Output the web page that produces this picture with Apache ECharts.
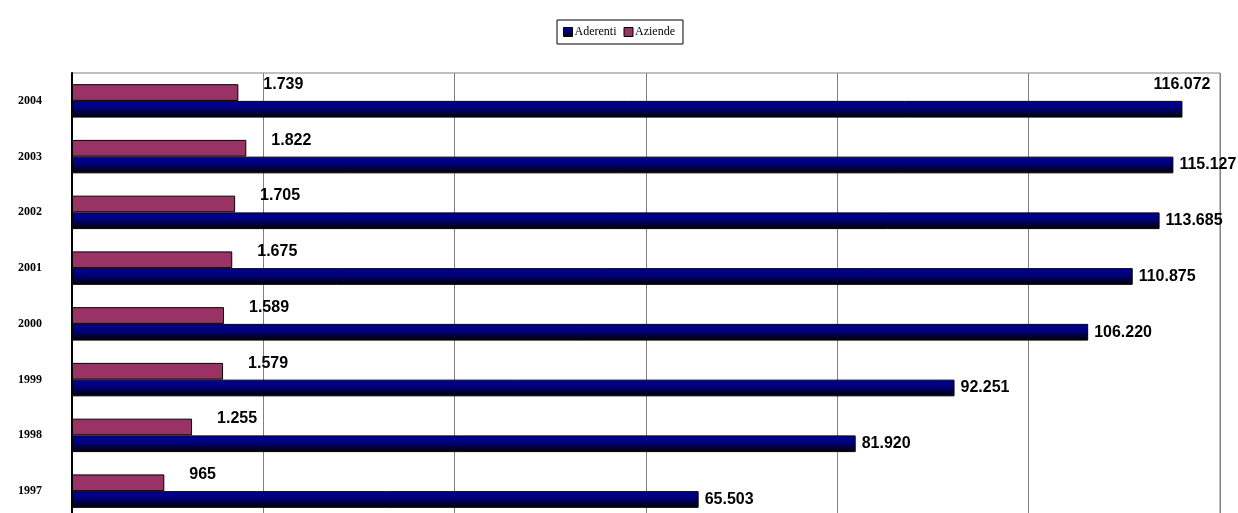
<!DOCTYPE html>
<html>
<head>
<meta charset="utf-8">
<script src="https://cdn.jsdelivr.net/npm/echarts@6/dist/echarts.min.js"></script>
<style>
html,body{margin:0;padding:0;background:#fff;}
#chart{width:1238px;height:513px;}
</style>
</head>
<body>
<div id="chart"></div>
<script>
var years = ['1997','1998','1999','2000','2001','2002','2003','2004'];
var aderenti = [65503, 81920, 92251, 106220, 110875, 113685, 115127, 116072];
var aziende = [965, 1255, 1579, 1589, 1675, 1705, 1822, 1739];
var seriesNames = ['Aderenti', 'Aziende'];

function fmt(v) {
  return String(v).replace(/\B(?=(\d{3})+(?!\d))/g, '.');
}

var chart = echarts.init(document.getElementById('chart'), null, {renderer: 'canvas'});
var W = 1238;
var labelFont = {fontFamily: '"Liberation Sans", Arial, sans-serif', fontWeight: 'bold', fontSize: 16, color: '#000'};

chart.setOption({
  animation: false,
  backgroundColor: '#fff',
  legend: {
    data: seriesNames,
    top: 20,
    left: 'center',
    icon: 'rect',
    itemWidth: 9,
    itemHeight: 9,
    itemGap: 7,
    padding: [6, 8, 6, 6],
    borderColor: '#000',
    borderWidth: 1,
    itemStyle: {borderColor: '#000', borderWidth: 1},
    textStyle: {fontFamily: '"Liberation Serif", "Times New Roman", serif', fontSize: 12, color: '#000', padding: [0, 0, 0, -3]}
  },
  grid: {
    left: 72, right: 18, top: 73, height: 446,
    outerBoundsMode: 'none',
    show: true, borderColor: '#808080', borderWidth: 1,
    containLabel: false
  },
  xAxis: [
    {
      type: 'value', min: 0, max: 120000, interval: 20000,
      axisLabel: {show: false}, axisTick: {show: false}, axisLine: {show: false},
      splitLine: {show: true, lineStyle: {color: '#808080', width: 1}}
    },
    {
      type: 'value', min: 0, max: 12000, show: false,
      splitLine: {show: false}
    }
  ],
  yAxis: {
    type: 'category',
    data: years,
    axisTick: {show: false},
    axisLine: {show: true, lineStyle: {color: '#000', width: 2}},
    axisLabel: {
      margin: 30,
      fontFamily: '"Liberation Serif", "Times New Roman", serif',
      fontWeight: 'bold', fontSize: 12, color: '#000'
    }
  },
  series: [
    {
      name: seriesNames[1],
      type: 'bar',
      xAxisIndex: 1,
      data: aziende,
      barGap: '0%',
      barCategoryGap: '40%',
      itemStyle: {color: '#993366', borderColor: '#000', borderWidth: 1},
      label: Object.assign({
        show: true, position: 'right', distance: 5, offset: [20, -8],
        formatter: function (p) { return fmt(p.value); }
      }, labelFont)
    },
    {
      name: seriesNames[0],
      type: 'bar',
      xAxisIndex: 0,
      data: aderenti,
      barGap: '0%',
      barCategoryGap: '40%',
      itemStyle: {
        color: new echarts.graphic.LinearGradient(0, 0, 0, 1, [
          {offset: 0, color: '#000094'},
          {offset: 0.4, color: '#000080'},
          {offset: 1, color: '#000000'}
        ]),
        borderColor: '#000', borderWidth: 1
      },
      label: Object.assign({
        show: true, position: 'right', distance: 6,
        formatter: function (p) { return fmt(p.value); }
      }, labelFont),
      labelLayout: function (params) {
        var r = params.rect, lr = params.labelRect;
        if (lr.x + lr.width > W) {
          return {x: r.x + r.width + 28, y: r.y - 16, align: 'right', verticalAlign: 'middle'};
        }
        return {};
      }
    }
  ]
});
</script>
</body>
</html>
